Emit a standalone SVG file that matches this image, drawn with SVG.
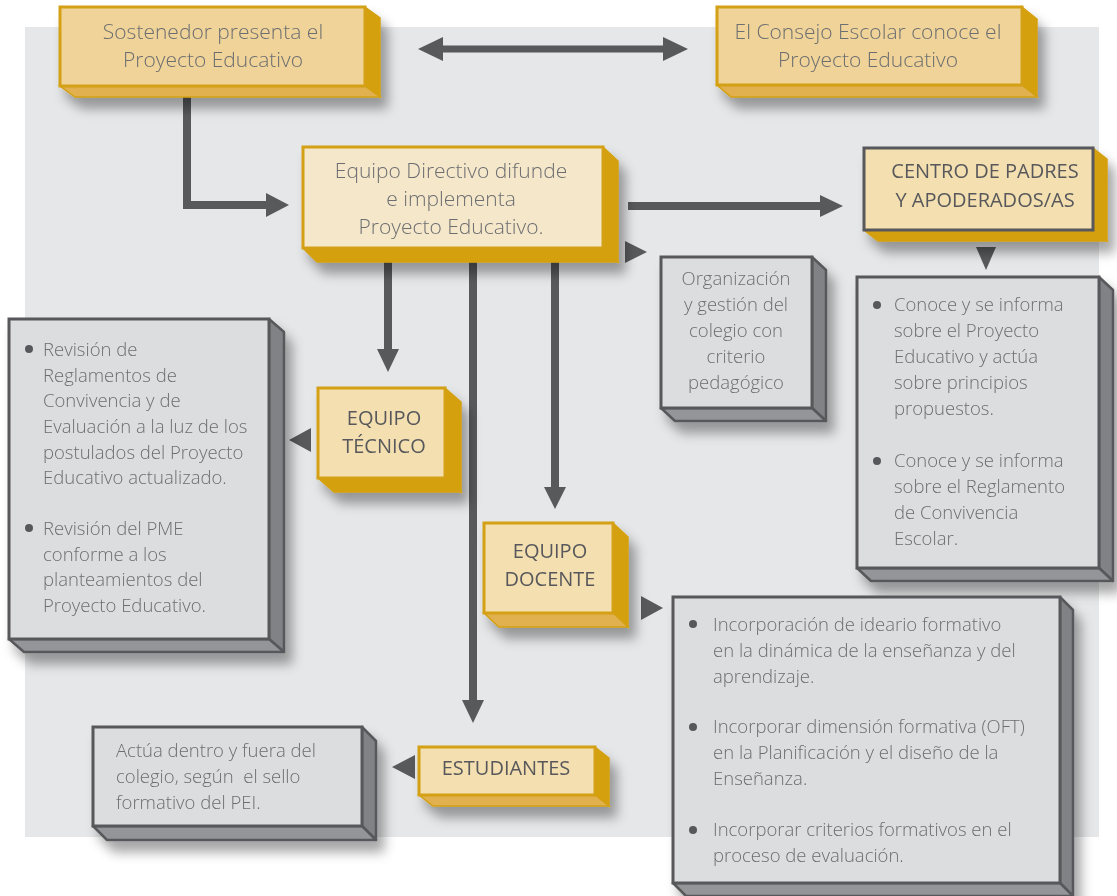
<svg xmlns="http://www.w3.org/2000/svg" width="1117" height="896" viewBox="0 0 1117 896">
<defs>
<filter id="sh" x="-20%" y="-20%" width="150%" height="160%">
<feDropShadow dx="7" dy="11" stdDeviation="6" flood-color="#000" flood-opacity="0.35"/>
</filter>
<style>
text{font-family:"Open Sans","Liberation Sans",sans-serif;font-weight:300;fill:#6d6e71}
.t{font-size:21px}
.c{font-size:20px;fill:#58595b;font-weight:400}
.b{font-size:18.5px}
.mid{text-anchor:middle}
.gf{stroke:#d4a012;stroke-width:3}
.gr{fill:#d4a010;stroke:#d4a012;stroke-width:1.5}
.gb{fill:#e1b14f;stroke:#d4a012;stroke-width:1.5}
.gbd{fill:#d4a010;stroke:#d4a012;stroke-width:1.5}
.yf{fill:#efd398}
.lf{fill:#f5e7ca}
.mf{fill:#f3dfb0}
.xf{fill:#dcdddf;stroke:#58595b;stroke-width:3}
.xr{fill:#808285;stroke:#58595b;stroke-width:2.5;stroke-linejoin:round}
.xb{fill:#939598;stroke:#58595b;stroke-width:2.5;stroke-linejoin:round}
.ln{stroke:#58595b;fill:none}
.hd{fill:#58595b}
.dot{fill:#58595b}
</style>
</defs>
<rect x="0" y="0" width="1117" height="896" fill="#ffffff"/>
<rect x="25" y="27" width="1074" height="810" fill="#e6e7e8"/>

<g id="connectors">
<line class="ln" x1="440" y1="49" x2="666" y2="49" stroke-width="7"/>
<polygon class="hd" points="418,49 443,37 443,61"/>
<polygon class="hd" points="688,49 663,37 663,61"/>
<path class="ln" d="M187,97 V205 H268" stroke-width="8"/>
<polygon class="hd" points="266,193 289,205 266,217"/>
<line class="ln" x1="628" y1="206" x2="822" y2="206" stroke-width="8"/>
<polygon class="hd" points="820,195 843,206 820,217"/>
<polygon class="hd" points="625,241 647,252 625,263"/>
<line class="ln" x1="388" y1="262" x2="388" y2="351" stroke-width="8"/>
<polygon class="hd" points="377,349 399,349 388,372"/>
<line class="ln" x1="473" y1="262" x2="473" y2="702" stroke-width="8"/>
<polygon class="hd" points="462,700 484,700 473,723"/>
<line class="ln" x1="555" y1="262" x2="555" y2="489" stroke-width="8"/>
<polygon class="hd" points="544,487 566,487 555,509"/>
<polygon class="hd" points="311,428 289,440 311,452"/>
<polygon class="hd" points="641,596 663,608 641,620"/>
<polygon class="hd" points="415,755 392,767 415,779"/>
<polygon class="hd" points="976,247 996,247 986,270"/>
</g>

<g id="sostenedor" filter="url(#sh)">
<polygon class="gr" points="365,7 380,18 380,97 365,86"/>
<polygon class="gb" points="60,86 365,86 380,97 75,97"/>
<rect class="gf yf" x="60" y="7" width="305" height="79"/>
<text class="t mid" x="213" y="39">Sostenedor presenta el</text>
<text class="t mid" x="213" y="67">Proyecto Educativo</text>
</g>

<g id="consejo" filter="url(#sh)">
<polygon class="gr" points="1022,7 1037,19 1037,97 1022,85"/>
<polygon class="gb" points="717,85 1022,85 1037,97 731,97"/>
<rect class="gf yf" x="717" y="7" width="305" height="78"/>
<text class="t mid" x="868" y="39">El Consejo Escolar conoce el</text>
<text class="t mid" x="868" y="67">Proyecto Educativo</text>
</g>

<g id="directivo" filter="url(#sh)">
<polygon class="gr" points="603,147 618,161 618,262 603,248"/>
<polygon class="gbd" points="303,248 603,248 618,262 317,262"/>
<rect class="gf lf" x="303" y="147" width="300" height="101"/>
<text class="t mid" x="451" y="178">Equipo Directivo difunde</text>
<text class="t mid" x="451" y="206">e implementa</text>
<text class="t mid" x="451" y="234">Proyecto Educativo.</text>
</g>

<g id="centro" filter="url(#sh)">
<polygon class="gbd" points="1093,148 1107,159 1107,241 1093,230" stroke="#58595b"/>
<polygon class="gbd" points="864,230 1093,230 1107,241 878,241" stroke="#58595b"/>
<rect class="mf" x="864" y="148" width="229" height="82" stroke="#58595b" stroke-width="3"/>
<text class="c mid" x="985" y="178">CENTRO DE PADRES</text>
<text class="c mid" x="985" y="207">Y APODERADOS/AS</text>
</g>

<g id="organizacion" filter="url(#sh)">
<polygon class="xr" points="812,257 826,270 826,421 812,408"/>
<polygon class="xb" points="661,408 812,408 826,421 675,421"/>
<rect class="xf" x="661" y="257" width="151" height="151"/>
<text class="b mid" x="736" y="285">Organización</text>
<text class="b mid" x="736" y="311">y gestión del</text>
<text class="b mid" x="736" y="337">colegio con</text>
<text class="b mid" x="736" y="363">criterio</text>
<text class="b mid" x="736" y="389">pedagógico</text>
</g>

<g id="conoce" filter="url(#sh)">
<polygon class="xr" points="1099,277 1113,290 1113,581 1099,568"/>
<polygon class="xb" points="857,568 1099,568 1113,581 871,581"/>
<rect class="xf" x="857" y="277" width="242" height="291"/>
<circle class="dot" cx="877" cy="305" r="4"/>
<text class="b" x="894" y="311">Conoce y se informa</text>
<text class="b" x="894" y="337">sobre el Proyecto</text>
<text class="b" x="894" y="363">Educativo y actúa</text>
<text class="b" x="894" y="389">sobre principios</text>
<text class="b" x="894" y="415">propuestos.</text>
<circle class="dot" cx="877" cy="461" r="4"/>
<text class="b" x="894" y="467">Conoce y se informa</text>
<text class="b" x="894" y="493">sobre el Reglamento</text>
<text class="b" x="894" y="519">de Convivencia</text>
<text class="b" x="894" y="545">Escolar.</text>
</g>

<g id="tecnico" filter="url(#sh)">
<polygon class="gr" points="445,388 461,402 461,492 445,478"/>
<polygon class="gbd" points="318,478 445,478 461,492 334,492"/>
<rect class="gf mf" x="318" y="388" width="127" height="90"/>
<text class="c mid" x="384" y="425">EQUIPO</text>
<text class="c mid" x="384" y="453">TÉCNICO</text>
</g>

<g id="revision" filter="url(#sh)">
<polygon class="xr" points="269,319 284,332 284,652 269,639"/>
<polygon class="xb" points="9,639 269,639 284,652 24,652"/>
<rect class="xf" x="9" y="319" width="260" height="320"/>
<circle class="dot" cx="29" cy="349" r="4"/>
<text class="b" x="43" y="356">Revisión de</text>
<text class="b" x="43" y="381.5">Reglamentos de</text>
<text class="b" x="43" y="407">Convivencia y de</text>
<text class="b" x="43" y="433">Evaluación a la luz de los</text>
<text class="b" x="43" y="458.5">postulados del Proyecto</text>
<text class="b" x="43" y="484">Educativo actualizado.</text>
<circle class="dot" cx="29" cy="528" r="4"/>
<text class="b" x="43" y="535">Revisión del PME</text>
<text class="b" x="43" y="560.5">conforme a los</text>
<text class="b" x="43" y="586">planteamientos del</text>
<text class="b" x="43" y="612">Proyecto Educativo.</text>
</g>

<g id="docente" filter="url(#sh)">
<polygon class="gr" points="613,523 628,537 628,627 613,613"/>
<polygon class="gb" points="484,613 613,613 628,627 499,627"/>
<rect class="gf mf" x="484" y="523" width="129" height="90"/>
<text class="c mid" x="550" y="558">EQUIPO</text>
<text class="c mid" x="550" y="586">DOCENTE</text>
</g>

<g id="incorporacion" filter="url(#sh)">
<polygon class="xr" points="1060,597 1073,610 1073,896 1060,883"/>
<polygon class="xb" points="673,883 1060,883 1073,896 686,896"/>
<rect class="xf" x="673" y="597" width="387" height="286"/>
<circle class="dot" cx="693" cy="624" r="4"/>
<text class="b" x="713" y="631">Incorporación de ideario formativo</text>
<text class="b" x="713" y="657">en la dinámica de la enseñanza y del</text>
<text class="b" x="713" y="683">aprendizaje.</text>
<circle class="dot" cx="693" cy="727" r="4"/>
<text class="b" x="713" y="733">Incorporar dimensión formativa (OFT)</text>
<text class="b" x="713" y="759">en la Planificación y el diseño de la</text>
<text class="b" x="713" y="785">Enseñanza.</text>
<circle class="dot" cx="693" cy="830" r="4"/>
<text class="b" x="713" y="836">Incorporar criterios formativos en el</text>
<text class="b" x="713" y="862">proceso de evaluación.</text>
</g>

<g id="estudiantes" filter="url(#sh)">
<polygon class="gr" points="595,747 609,758 609,806 595,795"/>
<polygon class="gb" points="419,795 595,795 609,806 433,806"/>
<rect class="gf mf" x="419" y="747" width="176" height="48"/>
<text class="c mid" x="506" y="775">ESTUDIANTES</text>
</g>

<g id="actua" filter="url(#sh)">
<polygon class="xr" points="362,727 376,741 376,840 362,826"/>
<polygon class="xb" points="93,826 362,826 376,840 107,840"/>
<rect class="xf" x="93" y="727" width="269" height="99"/>
<text class="b" x="116" y="757">Actúa dentro y fuera del</text>
<text class="b" x="116" y="783" xml:space="preserve">colegio, según  el sello</text>
<text class="b" x="116" y="809">formativo del PEI.</text>
</g>
</svg>
